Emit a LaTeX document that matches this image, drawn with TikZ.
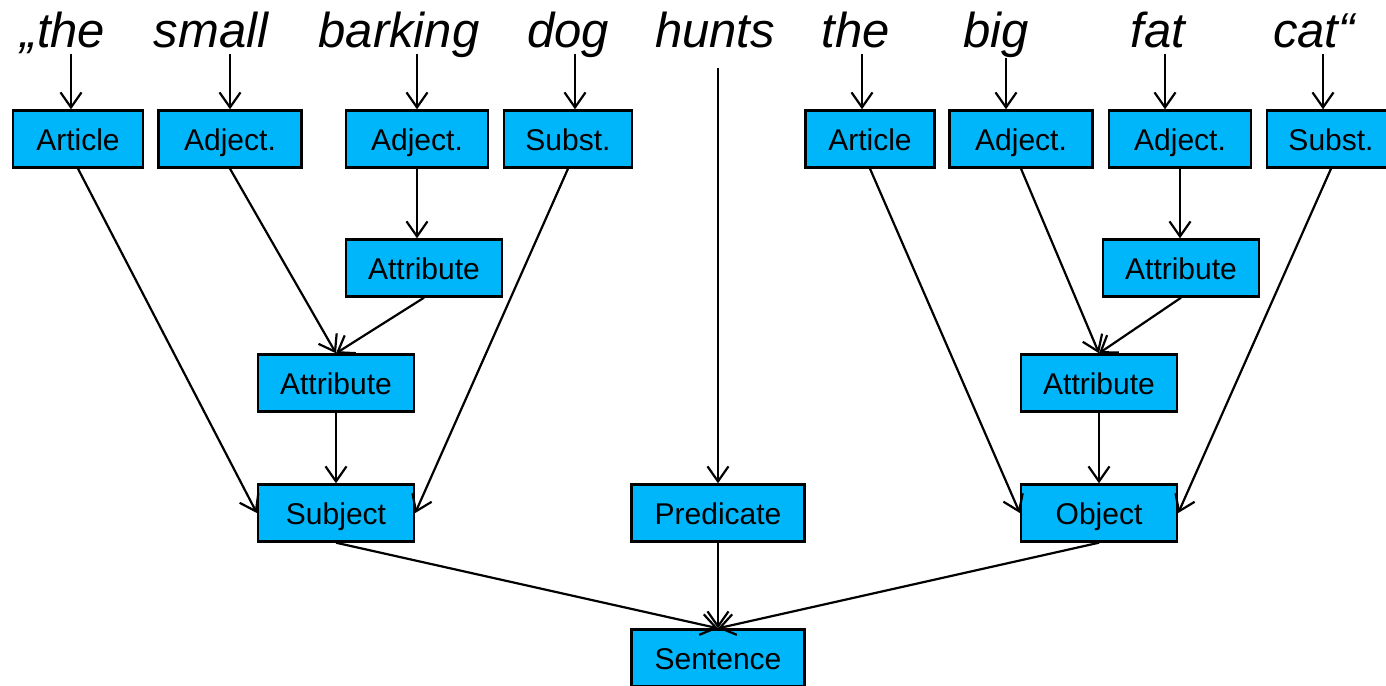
\documentclass[tikz,border=0pt]{standalone}
\usepackage{fontspec}
\setmainfont{Liberation Sans}
\usetikzlibrary{arrows.meta}
\definecolor{boxc}{HTML}{00B6FA}
\begin{document}
\begin{tikzpicture}[x=1pt,y=-1pt,
  box/.style={draw, line width=2.4pt, fill=boxc, minimum height=57pt, inner sep=0pt, text height=22pt, text depth=0pt, font=\fontsize{30}{34}\selectfont},
  word/.style={font=\fontsize{49}{55}\selectfont\itshape, anchor=base, inner sep=0pt},
  arr/.style={line width=2.2pt, -{Straight Barb[length=15pt,width=21pt,line width=2.2pt]}}]
\clip (0,0) rectangle (1386,685);
\useasboundingbox (0,0) rectangle (1386,685);
% words
\node[word] (w1) at (63,48) {„the};
\node[word] (w2) at (211,48) {small};
\node[word] (w3) at (399,48) {barking};
\node[word] (w4) at (568,48) {dog};
\node[word] (w5) at (715,48) {hunts};
\node[word] (w6) at (856,48) {the};
\node[word] (w7) at (996,48) {big};
\node[word] (w8) at (1158,48) {fat};
\node[word] (w9) at (1314,48) {cat“};
% boxes
\node[box, minimum width=130pt] (a1) at (78,139) {Article};
\node[box, minimum width=143pt] (j1) at (230,139) {Adject.};
\node[box, minimum width=142pt] (j2) at (417,139) {Adject.};
\node[box, minimum width=128pt] (s1) at (568,139) {Subst.};
\node[box, minimum width=129pt] (a2) at (870,139) {Article};
\node[box, minimum width=143pt] (j3) at (1021,139) {Adject.};
\node[box, minimum width=142pt] (j4) at (1180,139) {Adject.};
\node[box, minimum width=128pt] (s2) at (1331,139) {Subst.};
\node[box, minimum width=156pt] (t1) at (424,268) {Attribute};
\node[box, minimum width=156pt] (t2) at (336,383) {Attribute};
\node[box, minimum width=156pt] (t3) at (1181,268) {Attribute};
\node[box, minimum width=156pt] (t4) at (1099,383) {Attribute};
\node[box, minimum width=156pt] (subj) at (336,513) {Subject};
\node[box, minimum width=173pt] (pred) at (718,513) {Predicate};
\node[box, minimum width=156pt] (obj) at (1099,513) {Object};
\node[box, minimum width=173pt] (sent) at (718,658) {Sentence};
% arrow starts below words
\coordinate (c1) at (71,54);
\coordinate (c2) at (230,54);
\coordinate (c3) at (417,54);
\coordinate (c4) at (575,54);
\coordinate (c5) at (718,68);
\coordinate (c6) at (862,54);
\coordinate (c7) at (1006,58);
\coordinate (c8) at (1165,54);
\coordinate (c9) at (1323,54);
\draw[arr] (c1) -- (c1 |- a1.north);
\draw[arr] (c2) -- (c2 |- j1.north);
\draw[arr] (c3) -- (c3 |- j2.north);
\draw[arr] (c4) -- (c4 |- s1.north);
\draw[arr] (c5) -- (pred.north);
\draw[arr] (c6) -- (c6 |- a2.north);
\draw[arr] (c7) -- (c7 |- j3.north);
\draw[arr] (c8) -- (c8 |- j4.north);
\draw[arr] (c9) -- (c9 |- s2.north);
% left tree
\draw[arr] (a1.south) -- (subj.west);
\draw[arr] (j1.south) -- (t2.north);
\draw[arr] (j2.south) -- (j2.south |- t1.north);
\draw[arr] (t1.south) -- (t2.north);
\draw[arr] (s1.south) -- (subj.east);
\draw[arr] (t2.south) -- (subj.north);
% right tree
\draw[arr] (a2.south) -- (obj.west);
\draw[arr] (j3.south) -- (t4.north);
\draw[arr] (j4.south) -- (j4.south |- t3.north);
\draw[arr] (t3.south) -- (t4.north);
\draw[arr] (s2.south) -- (obj.east);
\draw[arr] (t4.south) -- (obj.north);
% sentence
\draw[arr] (subj.south) -- (sent.north);
\draw[arr] (pred.south) -- (sent.north);
\draw[arr] (obj.south) -- (sent.north);
\end{tikzpicture}
\end{document}
